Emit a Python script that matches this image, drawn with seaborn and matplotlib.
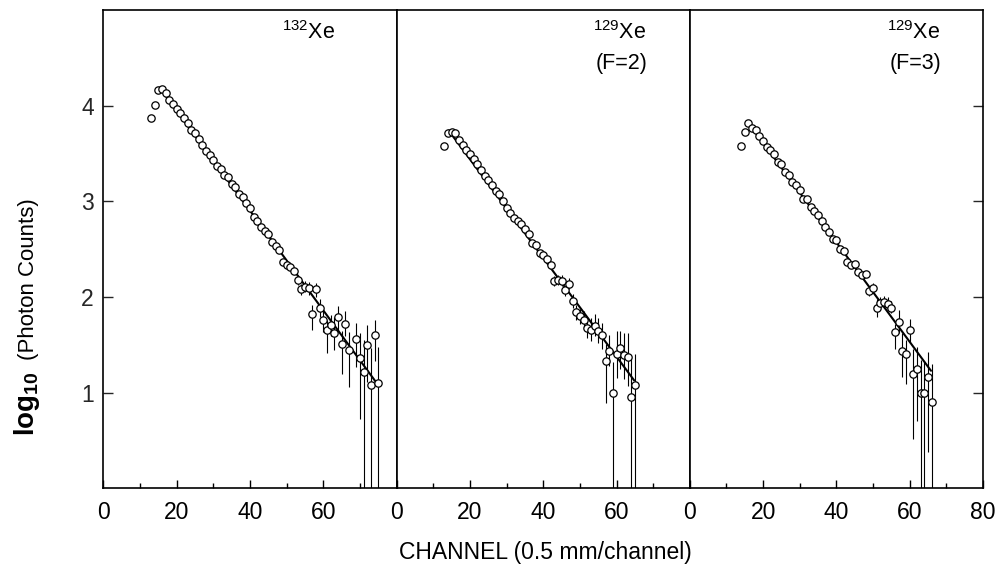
import matplotlib
matplotlib.use("Agg")
import matplotlib.pyplot as plt
import pandas as pd
import seaborn as sns

# ---------------- data ----------------
# Panel 1: 132Xe
p1_channel = list(range(13, 68)) + [69, 70, 71, 72, 73, 74, 75]
p1_value = [3.87, 4.01, 4.16, 4.17, 4.13, 4.06, 4.02, 3.97, 3.92, 3.87,
            3.82, 3.75, 3.71, 3.65, 3.59, 3.53, 3.48, 3.43, 3.37, 3.34,
            3.28, 3.25, 3.18, 3.15, 3.08, 3.05, 2.98, 2.93, 2.84, 2.80,
            2.73, 2.69, 2.66, 2.58, 2.53, 2.49, 2.37, 2.33, 2.31, 2.27,
            2.18, 2.08, 2.11, 2.09, 1.82, 2.08, 1.89, 1.76, 1.66, 1.71,
            1.62, 1.79, 1.51, 1.72, 1.45,
            1.56, 1.36, 1.22, 1.50, 1.08, 1.60, 1.10]
p1_err_channel = [53, 54, 55, 56, 57, 58, 59, 60, 61, 62, 63, 64, 65, 66, 67,
                  69, 70, 71, 72, 73, 74, 75]
p1_err_low = [2.13, 2.02, 2.05, 2.02, 1.66, 2.00, 1.79, 1.64, 1.415, 1.59, 1.45,
              1.64, 1.20, 1.59, 1.06, 1.27, 0.73, -1.0, 1.11, -1.0, 1.33, -1.0]
p1_err_high = [2.23, 2.14, 2.17, 2.16, 1.92, 2.15, 1.98, 1.86, 1.76, 1.81, 1.79,
               1.91, 1.65, 1.85, 1.63, 1.73, 1.62, 1.55, 1.71, 1.47, 1.76, 1.48]
p1_fit_channel = [15.7, 74.4]
p1_fit_value = [4.17, 1.11]

# Panel 2: 129Xe (F=2)
p2_channel = list(range(13, 66))
p2_value = [3.58, 3.715, 3.73, 3.71, 3.64, 3.59, 3.54, 3.49, 3.44, 3.39,
            3.33, 3.27, 3.22, 3.17, 3.11, 3.08, 3.00, 2.93, 2.88, 2.83,
            2.79, 2.76, 2.71, 2.66, 2.56, 2.54, 2.46, 2.44, 2.40, 2.34,
            2.17, 2.18, 2.17, 2.07, 2.14, 1.96, 1.84, 1.80, 1.76, 1.68,
            1.66, 1.70, 1.65, 1.60, 1.33, 1.44, 1.00, 1.40, 1.47, 1.39,
            1.37, 0.96, 1.08]
p2_err_channel = list(range(43, 66))
p2_err_low = [2.12, 2.13, 2.12, 2.01, 2.08, 1.89, 1.76, 1.72, 1.67, 1.57,
              1.54, 1.59, 1.52, 1.46, 0.89, 1.28, -1.0, 1.15, 1.25, 1.14,
              1.07, -1.0, -1.0]
p2_err_high = [2.22, 2.23, 2.23, 2.12, 2.20, 2.03, 1.92, 1.88, 1.85, 1.79,
               1.78, 1.82, 1.78, 1.73, 1.51, 1.60, 1.32, 1.65, 1.65, 1.62,
               1.62, 1.36, 1.41]
p2_fit_channel = [14.2, 64.8]
p2_fit_value = [3.74, 1.13]

# Panel 3: 129Xe (F=3)
p3_channel = list(range(14, 67))
p3_value = [3.58, 3.73, 3.82, 3.77, 3.75, 3.68, 3.63, 3.57, 3.54, 3.50,
            3.41, 3.39, 3.31, 3.28, 3.20, 3.17, 3.12, 3.03, 3.03, 2.94,
            2.90, 2.86, 2.80, 2.73, 2.68, 2.61, 2.60, 2.50, 2.48, 2.37,
            2.33, 2.35, 2.26, 2.23, 2.24, 2.06, 2.10, 1.885, 1.94, 1.95,
            1.93, 1.89, 1.635, 1.74, 1.44, 1.41, 1.66, 1.20, 1.25, 1.00,
            1.00, 1.165, 0.90]
p3_err_channel = list(range(49, 67))
p3_err_low = [2.01, 2.05, 1.79, 1.88, 1.89, 1.87, 1.83, 1.46, 1.62, 1.165,
              1.095, 1.53, 0.52, 0.71, -1.0, -1.0, 0.38, -1.0]
p3_err_high = [2.11, 2.15, 1.98, 2.00, 2.01, 2.00, 1.96, 1.72, 1.86, 1.62,
               1.55, 1.77, 1.46, 1.48, 1.34, 1.33, 1.43, 1.30]
p3_fit_channel = [15.8, 65.8]
p3_fit_value = [3.83, 1.23]

panel_isotope = [r"$^{132}$Xe", r"$^{129}$Xe", r"$^{129}$Xe"]
panel_state = ["", "(F=2)", "(F=3)"]

x_ticks = [0, 20, 40, 60, 80]
x_minor_ticks = [10, 30, 50, 70]
y_ticks = [1, 2, 3, 4]

# ---------------- style ----------------
sns.set_theme(style="ticks")
plt.rcParams["font.family"] = ["Liberation Sans", "DejaVu Sans"]
plt.rcParams["mathtext.fontset"] = "custom"
plt.rcParams["mathtext.rm"] = "Liberation Sans"
plt.rcParams["mathtext.it"] = "Liberation Sans:italic"
plt.rcParams["mathtext.bf"] = "Liberation Sans:bold"

fig, axes = plt.subplots(1, 3, figsize=(10.03, 5.67), dpi=100)
fig.subplots_adjust(left=0.1031, right=0.9801, bottom=0.1385, top=0.9824, wspace=0)

panels = [
    (p1_channel, p1_value, p1_err_channel, p1_err_low, p1_err_high, p1_fit_channel, p1_fit_value),
    (p2_channel, p2_value, p2_err_channel, p2_err_low, p2_err_high, p2_fit_channel, p2_fit_value),
    (p3_channel, p3_value, p3_err_channel, p3_err_low, p3_err_high, p3_fit_channel, p3_fit_value),
]
iso_pos = [(0.79, 0.952), (0.852, 0.952), (0.853, 0.952)]
state_pos = [(0.79, 0.889), (0.855, 0.889), (0.857, 0.889)]

for i, (ax, (ch, val, ech, elo, ehi, fch, fval)) in enumerate(zip(axes, panels)):
    df = pd.DataFrame({"channel": ch, "value": val})
    fit = pd.DataFrame({"channel": fch, "value": fval})
    ax.vlines(ech, elo, ehi, color="black", lw=0.8, zorder=1)
    sns.lineplot(data=fit, x="channel", y="value", ax=ax, color="black",
                 lw=1.5, zorder=2, legend=False)
    sns.scatterplot(data=df, x="channel", y="value", ax=ax, marker="o", s=28,
                    color="white", edgecolor="black", linewidth=0.9,
                    zorder=3, legend=False)

    ax.set_xlim(0, 80)
    ax.set_ylim(0, 5)
    ax.set_xlabel("")
    ax.set_ylabel("")
    ax.set_xticks(x_ticks)
    ax.set_xticks(x_minor_ticks, minor=True)
    labels = [str(t) for t in x_ticks]
    if i < 2:
        labels[-1] = ""
    ax.set_xticklabels(labels)
    ax.tick_params(axis="x", which="major", direction="in", length=6, width=1.0,
                   labelsize=16.5, pad=9, color="black", labelcolor="black")
    ax.tick_params(axis="x", which="minor", direction="in", length=3.5, width=1.0,
                   color="black")
    ax.set_yticks(y_ticks)
    ax.set_yticklabels([str(t) for t in y_ticks])
    if i == 0:
        ax.tick_params(axis="y", direction="in", length=7, width=1.0, left=True,
                       right=False, labelleft=True, labelright=False,
                       labelsize=16.5, pad=7)
    elif i == 1:
        ax.tick_params(axis="y", left=False, right=False, labelleft=False,
                       labelright=False)
    else:
        ax.tick_params(axis="y", direction="in", length=7, width=1.0, left=False,
                       right=True, labelleft=False, labelright=False)
    for sp in ax.spines.values():
        sp.set_visible(True)
        sp.set_color("black")
        sp.set_linewidth(1.2)

    ax.text(*iso_pos[i], panel_isotope[i], transform=ax.transAxes, ha="right",
            va="center", fontsize=15.5, color="black")
    if panel_state[i]:
        ax.text(*state_pos[i], panel_state[i], transform=ax.transAxes, ha="right",
                va="center", fontsize=15.5, color="black")

# axis titles
fig.text(0.034, 1 - 436 / 567, r"$\mathbf{log}_{\mathbf{10}}$", rotation=90,
         rotation_mode="anchor", ha="left", va="baseline", fontsize=20,
         color="black")
fig.text(0.034, 1 - 360 / 567, "(Photon Counts)", rotation=90,
         rotation_mode="anchor", ha="left", va="baseline", fontsize=16,
         color="black")
fig.text(0.5435, 0.026, "CHANNEL (0.5 mm/channel)", ha="center", va="center",
         fontsize=16.5, color="black")

fig.savefig("out.png", dpi=100)
